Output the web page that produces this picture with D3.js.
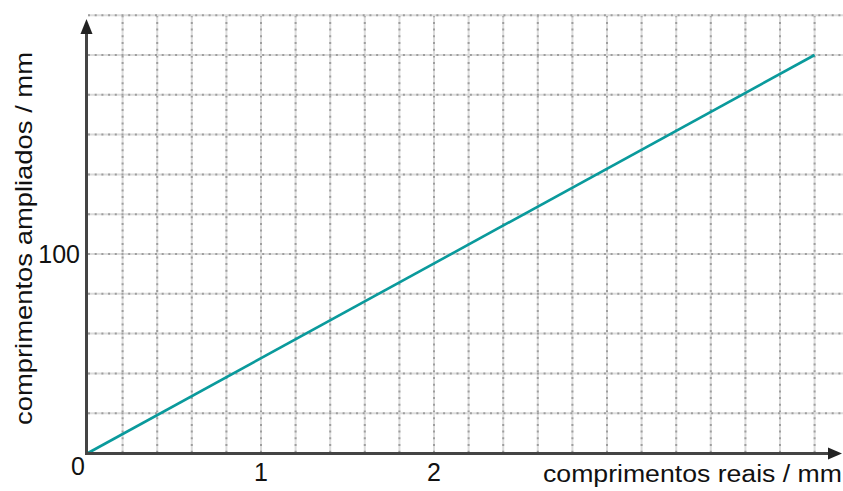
<!DOCTYPE html>
<html>
<head>
<meta charset="utf-8">
<script src="https://cdn.jsdelivr.net/npm/d3@7"></script>
<style>
  body { margin: 0; background: #fff; }
  text { font-family: Arial, "Liberation Sans", sans-serif; fill: #111; }
</style>
</head>
<body>
<svg width="843" height="491"></svg>
<script>
// data
var lineX = [0, 4.2];          // real length / mm
var lineY = [0, 200];          // magnified length / mm
var xTicks = [1, 2];
var yTicks = [100];
var xGrid = d3.range(0, 4.41, 0.2);
var yGrid = d3.range(0, 221, 20);

var svg = d3.select('svg');

var x = d3.scaleLinear().domain([0, 4.4]).range([88, 849.2]);
var y = d3.scaleLinear().domain([0, 220]).range([453, 15.2]);

// grid: light line under grey dots
var grid = svg.append('g');
grid.selectAll('line.vl').data(xGrid.slice(1)).enter().append('line')
  .attr('x1', d => x(d)).attr('x2', d => x(d))
  .attr('y1', y(220)).attr('y2', y(0))
  .attr('stroke', '#dcdcdc').attr('stroke-width', 2);
grid.selectAll('line.vd').data(xGrid.slice(1)).enter().append('line')
  .attr('x1', d => x(d)).attr('x2', d => x(d))
  .attr('y1', y(220)).attr('y2', y(0))
  .attr('stroke', '#9e9e9e').attr('stroke-width', 2)
  .attr('stroke-dasharray', '2,4.7');
grid.selectAll('line.hl').data(yGrid.slice(1)).enter().append('line')
  .attr('x1', x(0)).attr('x2', 843)
  .attr('y1', d => y(d)).attr('y2', d => y(d))
  .attr('stroke', '#dcdcdc').attr('stroke-width', 2);
grid.selectAll('line.hd').data(yGrid.slice(1)).enter().append('line')
  .attr('x1', x(0)).attr('x2', 843)
  .attr('y1', d => y(d)).attr('y2', d => y(d))
  .attr('stroke', '#9e9e9e').attr('stroke-width', 2)
  .attr('stroke-dasharray', '2,4.7');

// data line
var pts = lineX.map((d, i) => [d, lineY[i]]);
svg.append('path')
  .attr('d', d3.line().x(d => x(d[0])).y(d => y(d[1]))(pts))
  .attr('fill', 'none')
  .attr('stroke', '#0a9a9c')
  .attr('stroke-width', 2.6);

// axes with arrows
var axisCol = '#444';
svg.append('line')
  .attr('x1', 86.5).attr('x2', 86.5).attr('y1', 455).attr('y2', 30)
  .attr('stroke', axisCol).attr('stroke-width', 3);
svg.append('path')
  .attr('d', 'M86.5,19 L80.5,34 L92.5,34 Z').attr('fill', '#222');
svg.append('line')
  .attr('x1', 85).attr('x2', 830).attr('y1', 453.5).attr('y2', 453.5)
  .attr('stroke', axisCol).attr('stroke-width', 3);
svg.append('path')
  .attr('d', 'M842,453.5 L828,447.5 L828,459.5 Z').attr('fill', '#222');

// tick labels
svg.selectAll('text.xt').data(xTicks).enter().append('text')
  .attr('x', d => x(d)).attr('y', 481)
  .attr('text-anchor', 'middle')
  .style('font-size', '25px')
  .text(d => d);
svg.selectAll('text.yt').data(yTicks).enter().append('text')
  .attr('x', 80).attr('y', d => y(d) + 9)
  .attr('text-anchor', 'end')
  .style('font-size', '25px')
  .text(d => d);
svg.append('text')
  .attr('x', 78).attr('y', 475)
  .attr('text-anchor', 'middle')
  .style('font-size', '25px')
  .text('0');

// axis titles
svg.append('text')
  .attr('x', 543).attr('y', 482)
  .attr('textLength', 299).attr('lengthAdjust', 'spacingAndGlyphs')
  .style('font-size', '23px')
  .text('comprimentos reais / mm');
svg.append('text')
  .attr('transform', 'translate(32,425) rotate(-90)')
  .attr('textLength', 373).attr('lengthAdjust', 'spacingAndGlyphs')
  .style('font-size', '24px')
  .text('comprimentos ampliados / mm');
</script>
</body>
</html>
